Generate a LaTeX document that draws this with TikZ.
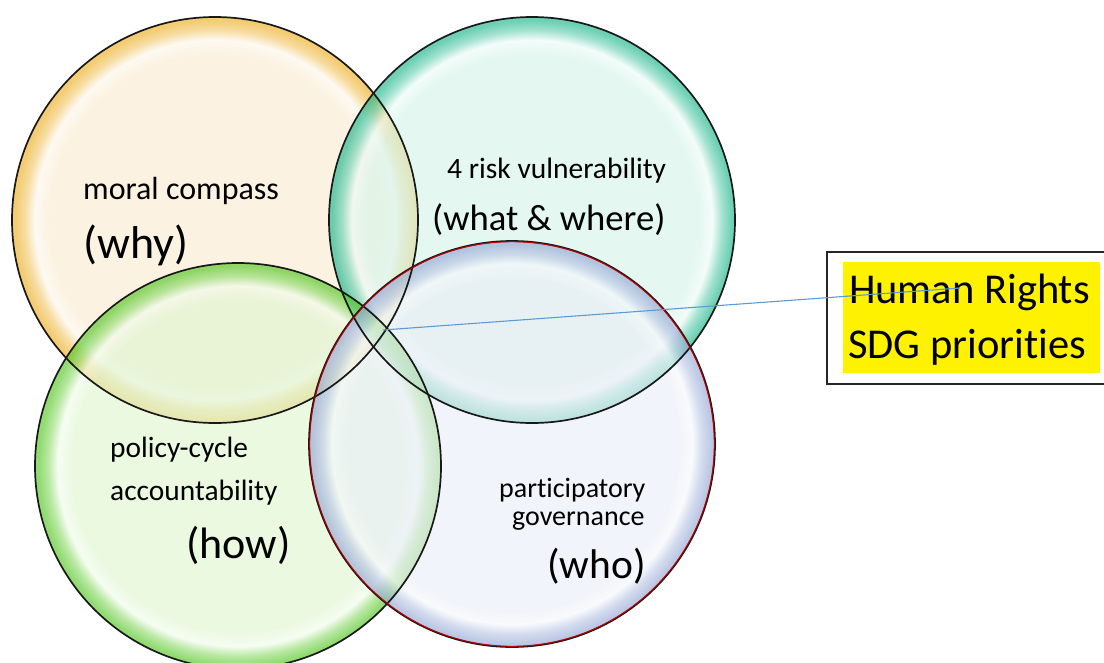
\documentclass[tikz,border=0pt]{standalone}
\usepackage{fontspec}
\setmainfont{Carlito}[Ligatures=NoCommon]

\definecolor{whyin}{HTML}{FAECD2}
\definecolor{whyrim}{HTML}{EDB22A}
\definecolor{whatin}{HTML}{D6F4EA}
\definecolor{whatrim}{HTML}{22B88E}
\definecolor{howin}{HTML}{E0F6D2}
\definecolor{howrim}{HTML}{58C828}
\definecolor{whoin}{HTML}{EAEEF7}
\definecolor{whorim}{HTML}{98AAD6}
\definecolor{pointer}{HTML}{5B9BD5}

% glossy ring: flat inside, pale band, coloured rim at 25bp
\newcommand*{\bubbleshading}[3]{%
  \pgfdeclareradialshading{#1}{\pgfpoint{0bp}{0bp}}{%
    color(0bp)=(#2); color(20.5bp)=(#2); color(22.2bp)=(#2!45!white);
    color(23.4bp)=(#3!55!#2); color(24.6bp)=(#3); color(50bp)=(#3)}}
\bubbleshading{whybub}{whyin}{whyrim}
\bubbleshading{whatbub}{whatin}{whatrim}
\bubbleshading{howbub}{howin}{howrim}
\bubbleshading{whobub}{whoin}{whorim}

\newcommand*{\rad}{203}

\begin{document}
\begin{tikzpicture}
[
	x=1pt,
	y=-1pt,
	bubble/.style={fill opacity=0.66},
	rim/.style={line width=1.7pt,draw=black!90},
	small/.style={anchor=base west,inner sep=0pt,font=\fontsize{28}{28}\selectfont},
	big/.style={anchor=base west,inner sep=0pt,font=\fontsize{44}{44}\selectfont}
]

	\useasboundingbox (0,0) rectangle (1104,662);

	% bubbles
	\foreach \s/\x/\y in {whybub/215/220,whatbub/532/220,howbub/238/466,whobub/512/444} {
		\shade[bubble,shading=\s] (\x,\y) circle (\rad);
	}

	% outlines
	\foreach \x/\y in {215/220,532/220,238/466} {
		\draw[rim] (\x,\y) circle (\rad);
	}
	\draw[rim] (512,444) circle (\rad);
	\draw[line width=1pt,red!75!black] (512,444) circle (\rad-0.7);

	% labels
	\node[small,font=\fontsize{32}{32}\selectfont] (moral) at (83,199) {moral compass};
	\node[big,font=\fontsize{46}{46}\selectfont] (why) at (83,258) {(why)};
	\node[small,font=\fontsize{29.5}{29.5}\selectfont] (risk) at (447,178) {4 risk vulnerability};
	\node[big,font=\fontsize{36.7}{36.7}\selectfont] (what) at (432,230) {(what \& where)};
	\node[small,font=\fontsize{29.4}{29.4}\selectfont] (policy) at (110,457) {policy-cycle};
	\node[small,font=\fontsize{29.4}{29.4}\selectfont] (account) at (110,500) {accountability};
	\node[big] (how) at (186,558) {(how)};
	\node[small] (partic) at (499,497) {participatory};
	\node[small] (gov) at (512,525) {governance};
	\node[big,font=\fontsize{41.5}{41.5}\selectfont] (who) at (547,578) {(who)};

	% callout
	\fill[yellow] (843,262) rectangle (1100,373);
	\draw[line width=2.4pt,black!85] (827,252) rectangle (1120,384);
	\node[big,font=\fontsize{42.5}{42.5}\selectfont] (rights) at (849,303) {Human Rights};
	\node[big,font=\fontsize{42.5}{42.5}\selectfont] (sdg) at (848,358) {SDG priorities};

	\coordinate (core) at (383,330);
	\coordinate (tip) at (960,288);
	\draw[pointer,line width=1.1pt] (core) -- (tip);

\end{tikzpicture}
\end{document}
